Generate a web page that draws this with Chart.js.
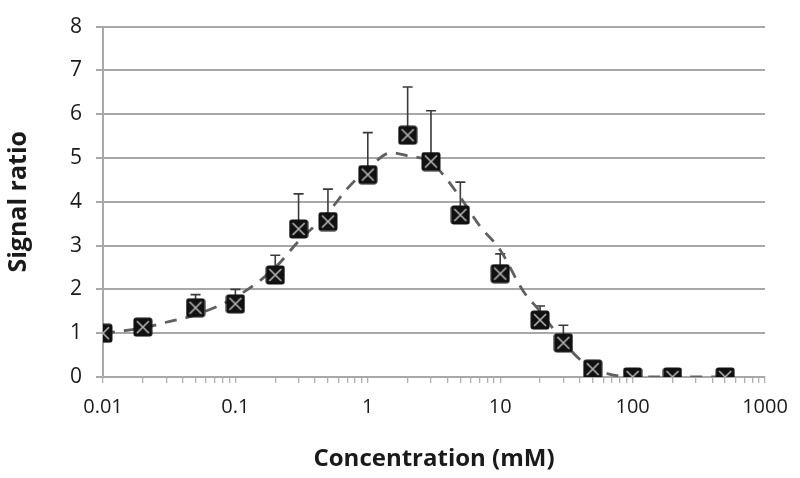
<!DOCTYPE html>
<html>
<head>
<meta charset="utf-8">
<script src="https://cdn.jsdelivr.net/npm/chart.js@4.4.0/dist/chart.umd.min.js"></script>
<style>
html,body{margin:0;padding:0;background:#fff;}
#wrap{width:800px;height:478px;position:relative;}
</style>
</head>
<body>
<div id="wrap"><canvas id="c" width="800" height="478"></canvas></div>
<script>
// ---- data ----
const concentrations = [0.01, 0.02, 0.05, 0.1, 0.2, 0.3, 0.5, 1, 2, 3, 5, 10, 20, 30, 50, 100, 200, 500];
const signalRatio    = [1.0, 1.14, 1.58, 1.67, 2.33, 3.38, 3.55, 4.62, 5.52, 4.92, 3.70, 2.36, 1.30, 0.78, 0.18, 0.0, 0.0, 0.0];
const errorUpper     = [0.0, 0.0, 0.30, 0.33, 0.45, 0.80, 0.74, 0.96, 1.10, 1.16, 0.75, 0.45, 0.32, 0.40, 0.0, 0.0, 0.0, 0.0];
const fitX = [0.01, 0.02, 0.03, 0.05, 0.1, 0.2, 0.3, 0.5, 0.7, 1, 1.5, 2, 3, 5, 7, 10, 15, 20, 30, 40, 50, 70, 100, 200, 500];
const fitY = [1.0, 1.12, 1.25, 1.42, 1.82, 2.5, 3.1, 3.75, 4.3, 4.75, 5.12, 5.05, 4.9, 4.1, 3.45, 2.9, 1.95, 1.5, 0.8, 0.4, 0.2, 0.05, 0.0, 0.0, 0.0];
const xMajorLabels = [0.01, 0.1, 1, 10, 100, 1000];
const yTickLabels = [0, 1, 2, 3, 4, 5, 6, 7, 8];

const FONT = "'Open Sans', sans-serif";

// marker: black square with grey X
function makeMarker(){
  const s = 20, c = document.createElement('canvas');
  c.width = s; c.height = s;
  const g = c.getContext('2d');
  g.fillStyle = '#111';
  g.beginPath();
  if (g.roundRect) g.roundRect(0.5, 0.5, s-1, s-1, 3); else g.rect(0.5,0.5,s-1,s-1);
  g.fill();
  g.strokeStyle = '#b4b4b4'; g.lineWidth = 1.6;
  g.beginPath(); g.moveTo(4,4); g.lineTo(s-4,s-4); g.moveTo(s-4,4); g.lineTo(4,s-4); g.stroke();
  return c;
}
const marker = makeMarker();

const errorBars = {
  id: 'errorBars',
  beforeDatasetsDraw(chart){
    const ctx = chart.ctx, xs = chart.scales.x, ys = chart.scales.y;
    ctx.save();
    ctx.strokeStyle = '#3a3a3a'; ctx.lineWidth = 1.6;
    concentrations.forEach((cx, i) => {
      const e = errorUpper[i];
      if (!e) return;
      const px = xs.getPixelForValue(cx);
      const p0 = ys.getPixelForValue(signalRatio[i]);
      const p1 = ys.getPixelForValue(signalRatio[i] + e);
      ctx.beginPath();
      ctx.moveTo(px, p0); ctx.lineTo(px, p1);
      ctx.moveTo(px - 5, p1); ctx.lineTo(px + 5, p1);
      ctx.stroke();
    });
    ctx.restore();
  }
};

const xTicks = [];
[0.01, 0.1, 1, 10, 100].forEach(d => { for (let m = 1; m <= 9; m++) xTicks.push(+(m*d).toPrecision(3)); });
xTicks.push(1000);

new Chart(document.getElementById('c'), {
  type: 'scatter',
  data: {
    datasets: [
      {
        label: 'Signal ratio',
        data: concentrations.map((x, i) => ({x, y: signalRatio[i]})),
        pointStyle: marker,
        pointRadius: 10,
        showLine: false
      },
      {
        label: 'Fit',
        data: fitX.map((x, i) => ({x, y: fitY[i]})),
        showLine: true,
        borderColor: '#606060',
        borderWidth: 2.8,
        borderDash: [12, 9],
        pointRadius: 0,
        tension: 0.4,
        cubicInterpolationMode: 'monotone',
        fill: false
      }
    ]
  },
  plugins: [errorBars],
  options: {
    responsive: false,
    animation: false,
    layout: { padding: { left: 0, right: 35, top: 18, bottom: 0 } },
    plugins: { legend: { display: false }, tooltip: { enabled: false } },
    scales: {
      x: {
        type: 'logarithmic',
        min: 0.01, max: 1000,
        afterBuildTicks(scale){ scale.ticks = xTicks.map(v => ({value: v, major: xMajorLabels.includes(v)})); },
        afterFit(scale){ scale.height = 101; },
        border: { display: true, color: '#a8a8a8', width: 2 },
        grid: { display: true, drawOnChartArea: false, drawTicks: true, tickLength: 6, color: '#b0b0b0', lineWidth: 1.3 },
        ticks: {
          autoSkip: false, maxRotation: 0, padding: 12,
          color: '#1a1a1a',
          font: { family: FONT, size: 20 },
          callback: (v) => xMajorLabels.includes(v) ? String(v) : ''
        },
        title: { display: true, text: 'Concentration (mM)', color: '#1a1a1a',
          font: { family: FONT, size: 24, weight: 'bold' }, padding: { top: 9 } }
      },
      y: {
        min: 0, max: 8,
        afterBuildTicks(scale){ scale.ticks = yTickLabels.map(v => ({value: v})); },
        afterFit(scale){ scale.width = 103; },
        border: { display: true, color: '#a8a8a8', width: 2 },
        grid: { color: '#a8a8a8', lineWidth: 2, tickLength: 7 },
        ticks: { padding: 14, color: '#1a1a1a', font: { family: FONT, size: 21 } },
        title: { display: true, text: 'Signal ratio', color: '#1a1a1a',
          font: { family: FONT, size: 25, weight: 'bold' }, padding: { bottom: 2 } }
      }
    }
  }
});
</script>
</body>
</html>
